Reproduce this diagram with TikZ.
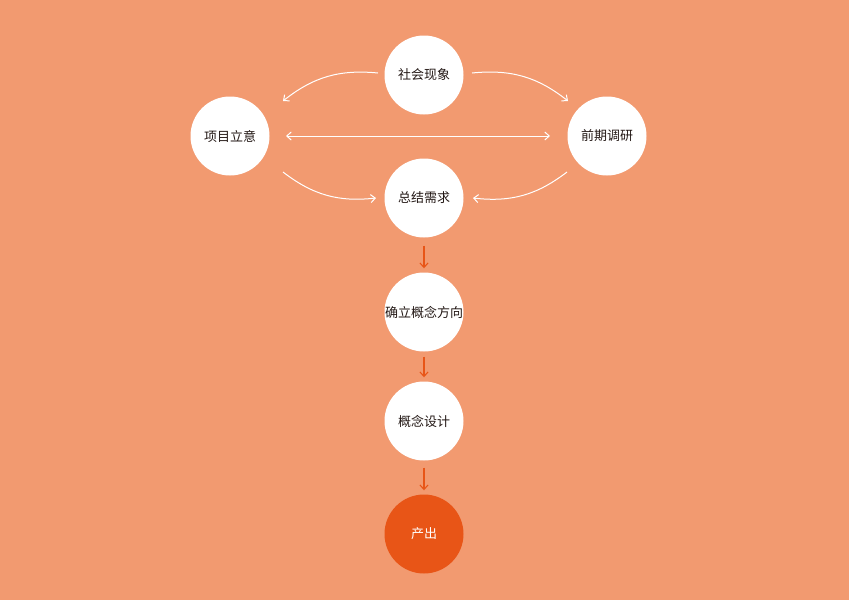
\documentclass[tikz,border=0pt]{standalone}
\usepackage{fontspec}
\setmainfont{Noto Sans CJK SC}
\usetikzlibrary{arrows.meta}
\definecolor{bgc}{HTML}{F29A70}
\definecolor{deep}{HTML}{E85517}
\definecolor{txt}{HTML}{231815}
\begin{document}
\begin{tikzpicture}[x=1pt,y=-1pt,
  circ/.style={circle,fill=white,minimum size=79pt,inner sep=0pt,text=txt,font=\fontsize{13pt}{15pt}\selectfont},
  outc/.style={circ,fill=deep,text=white},
  tip/.style={Straight Barb[length=4.5pt,width=8pt]},
  wline/.style={draw=white,line width=1pt,-{Straight Barb[length=4.5pt,width=8pt]}},
  oline/.style={draw=deep,line width=1.1pt,-{Straight Barb[length=4.5pt,width=8pt]}}]
\fill[bgc] (0,0) rectangle (849,600);
\useasboundingbox (0,0) rectangle (849,600);
\node[circ] (shxx) at (424,75) {社会现象};
\node[circ] (xmly) at (230,136) {项目立意};
\node[circ] (qqdy) at (607,136) {前期调研};
\node[circ] (zjxq) at (424,198) {总结需求};
\node[circ] (qlgn) at (424,312) {确立概念方向};
\node[circ] (gnsj) at (424,421) {概念设计};
\node[outc] (cc) at (424,534) {产出};
\coordinate (a1) at (378,73);
\coordinate (a2) at (283,101);
\coordinate (b1) at (472,73);
\coordinate (b2) at (568,101);
\coordinate (c1) at (286,136);
\coordinate (c2) at (550,136);
\coordinate (d1) at (283,172);
\coordinate (d2) at (376,198);
\coordinate (e1) at (567,172);
\coordinate (e2) at (473,198);
\draw[wline] (a1) to[bend right=22] (a2);
\draw[wline] (b1) to[bend left=22] (b2);
\draw[wline,{Straight Barb[length=4.5pt,width=8pt]}-{Straight Barb[length=4.5pt,width=8pt]}] (c1) -- (c2);
\draw[wline] (d1) to[bend right=22] (d2);
\draw[wline] (e1) to[bend left=22] (e2);
\draw[oline] ([yshift=-8pt]zjxq.south) -- ([yshift=4pt]qlgn.north);
\draw[oline] ([yshift=-5pt]qlgn.south) -- ([yshift=4pt]gnsj.north);
\draw[oline] ([yshift=-7pt]gnsj.south) -- ([yshift=4pt]cc.north);
\end{tikzpicture}
\end{document}
